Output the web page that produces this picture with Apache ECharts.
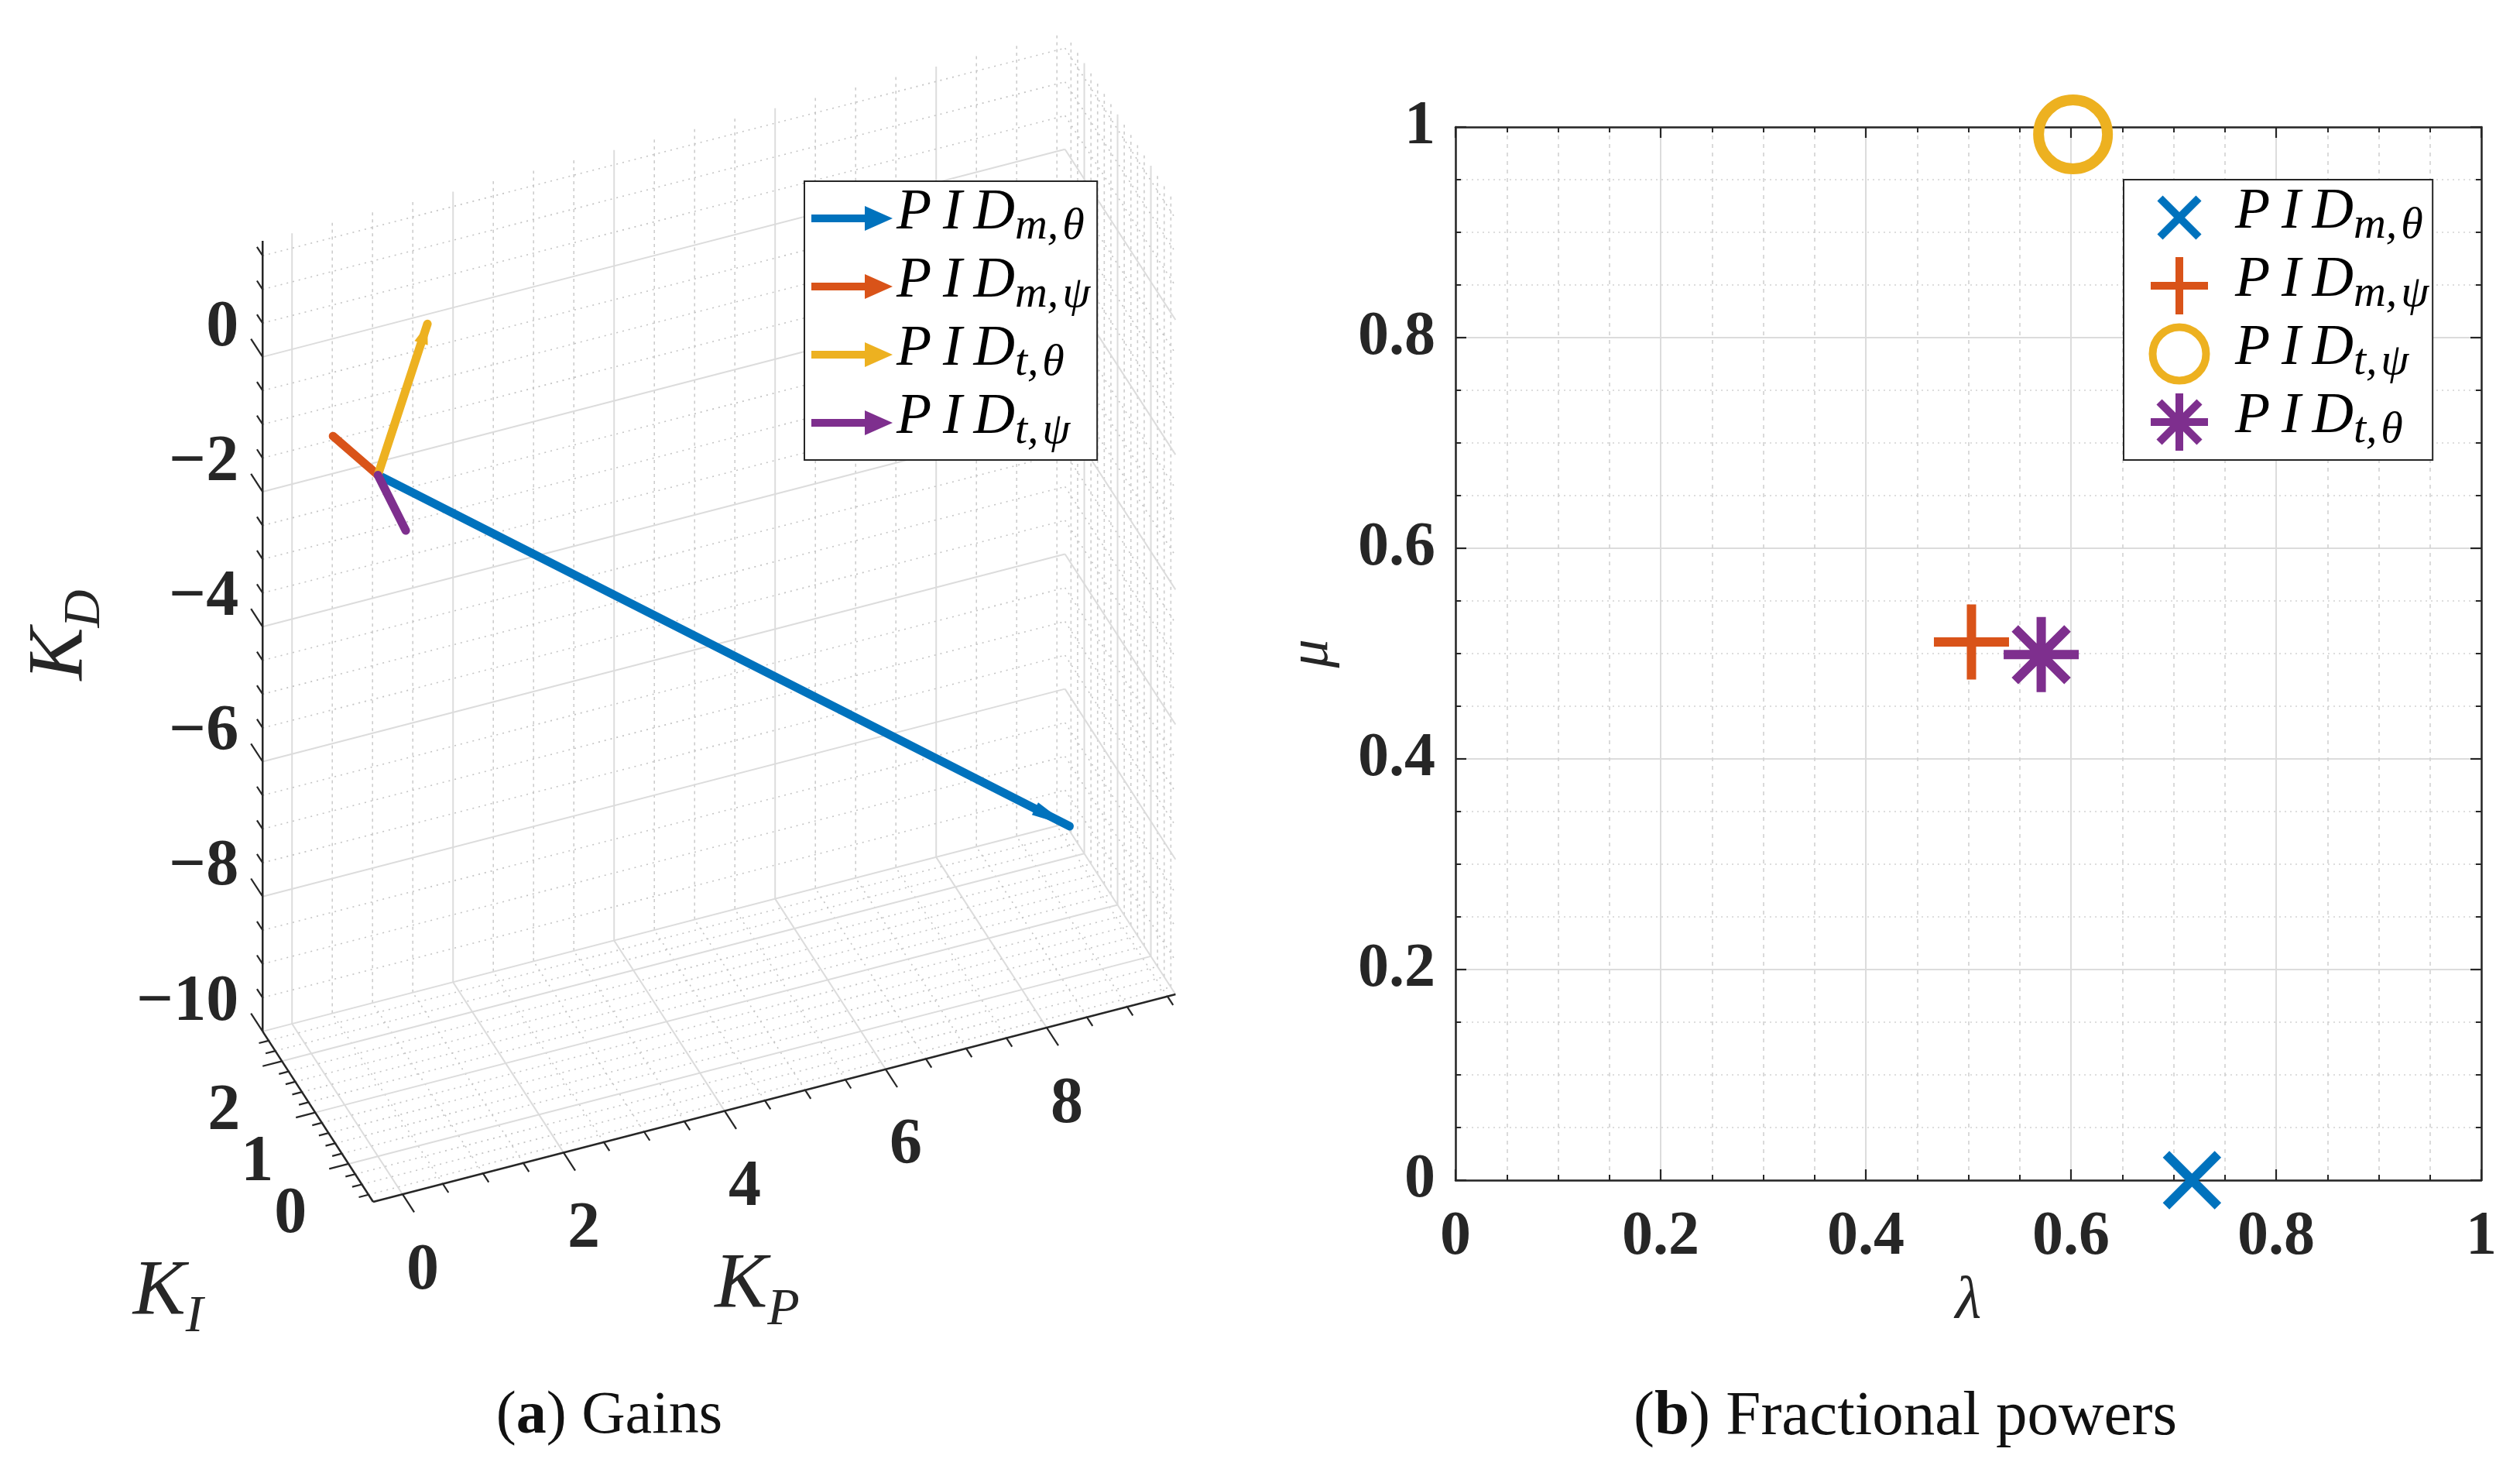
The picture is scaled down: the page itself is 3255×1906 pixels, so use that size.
<!DOCTYPE html>
<html><head><meta charset="utf-8">
<style>html,body{margin:0;padding:0;background:#fff}#c{width:3255px;height:1906px}</style>
<script src="https://cdn.jsdelivr.net/npm/echarts@6/dist/echarts.min.js"></script>
</head><body><div id="c"></div>
<script>
// ---------- data ----------
const gainSeriesNames = ['PID m,θ', 'PID m,ψ', 'PID t,θ', 'PID t,ψ'];
const arrowTail = [0, 0, 0.1];              // KP, KI, KD
const arrowTips = [
  [8.59, 0, -7.76],
  [-0.144, 1, -0.04],
  [0.615, 0, 2.15],
  [0.346, 0, -0.83]
];
const arrowHeadLengths = [50, 0, 26, 0];
const kpTicks = [0, 2, 4, 6, 8];
const kiTicks = [0, 1, 2];
const kdTicks = [-10, -8, -6, -4, -2, 0];
const kpRange = [-0.365, 9.6];
const kiRange = [-0.74, 2.58];
const kdRange = [-10, 1.72];

const powerSeriesNames = ['PID m,θ (powers)', 'PID m,ψ (powers)', 'PID t,ψ (powers)', 'PID t,θ (powers)'];
const lambdaValues = [0.718, 0.503, 0.602, 0.571];
const muValues = [0, 0.511, 0.993, 0.499];

// ---------- style ----------
const colors = ['#0072BD', '#D95319', '#EDB120', '#7E2F8E'];
const powerColors = ['#0072BD', '#D95319', '#EDB120', '#7E2F8E'];
const ink = '#262626';
const serif = '"Liberation Serif", serif';
const BOLD = { fontFamily: serif, fontWeight: 'bold', fontSize: 84, fill: ink };

// ---------- orthographic projection ----------
function project(kp, ki, kd) {
  return [
    482 + (kp - kpRange[0]) * 104 - (ki - kiRange[0]) * 43,
    1552 - (kp - kpRange[0]) * 26.9 - (ki - kiRange[0]) * 66.3 - (kd - kdRange[0]) * 87.1
  ];
}
function steps(a, b, s) {
  const out = [], n = Math.round((b - a) / s);
  for (let i = 0; i <= n; i++) out.push(+(a + i * s).toFixed(4));
  return out;
}
const isMajor = (v, list) => list.some(t => Math.abs(t - v) < 1e-6);

// kinds: 0 major grid, 1 minor dotted, 2 minor dashed, 3 axis, 4 major tick, 5 minor tick
const lines = [];
const seg = (a, b, k) => lines.push([a[0], a[1], a[2], b[0], b[1], b[2], k]);
const [pa, pb] = kpRange, [ia, ib] = kiRange, [da, db] = kdRange;
steps(0, 9.5, 0.5).forEach(p => {
  const maj = isMajor(p, kpTicks);
  seg([p, ia, da], [p, ib, da], maj ? 0 : 1);
  seg([p, ib, da], [p, ib, db], maj ? 0 : 2);
});
steps(-0.6, 2.4, 0.2).forEach(i => {
  const maj = isMajor(i, kiTicks);
  seg([pa, i, da], [pb, i, da], maj ? 0 : 1);
  seg([pb, i, da], [pb, i, db], maj ? 0 : 2);
});
steps(-10, 1.5, 0.5).forEach(d => {
  const maj = isMajor(d, kdTicks);
  seg([pa, ib, d], [pb, ib, d], maj ? 0 : 1);
  seg([pb, ib, d], [pb, ia, d], maj ? 0 : 1);
});
// axes
seg([pa, ia, da], [pb, ia, da], 3);
seg([pa, ia, da], [pa, ib, da], 3);
seg([pa, ib, da], [pa, ib, db], 3);
// ticks
steps(0, 9.5, 0.5).forEach(p => {
  const maj = isMajor(p, kpTicks);
  seg([p, ia, da], [p, ia - (maj ? 0.35 : 0.17), da], maj ? 4 : 5);
});
steps(-0.6, 2.4, 0.2).forEach(i => {
  const maj = isMajor(i, kiTicks);
  seg([pa, i, da], [pa - (maj ? 0.24 : 0.12), i, da], maj ? 4 : 5);
});
steps(-10, 1.5, 0.5).forEach(d => {
  const maj = isMajor(d, kdTicks);
  seg([pa, ib, d], [pa, ib + (maj ? 0.35 : 0.17), d], maj ? 4 : 5);
});
const lineStyles = [
  { stroke: '#dcdcdc', lineWidth: 2 },
  { stroke: '#c4c4c4', lineWidth: 1.6, lineDash: [2, 6] },
  { stroke: '#cdcdcd', lineWidth: 1.6, lineDash: [4, 5] },
  { stroke: ink, lineWidth: 2.5 },
  { stroke: ink, lineWidth: 2.2 },
  { stroke: ink, lineWidth: 2.2 }
];

// tick labels of the projected axes
const tickLabels = [];
kpTicks.forEach(v => tickLabels.push({ p: [v, ia, da], dx: 26, dy: 100, t: String(v), align: 'center' }));
kiTicks.forEach(v => tickLabels.push({ p: [pa, v, da], dx: -75, dy: 66, t: String(v), align: 'center' }));
kdTicks.forEach(v => tickLabels.push({ p: [pa, ib, v], dx: -31, dy: -37, t: String(v).replace('-', '\u2212'), align: 'right' }));

function hiddenCoord(api, p) { return api.coord(project(p[0], p[1], p[2])); }

const arrowSeries = gainSeriesNames.map((name, s) => ({
  name, type: 'custom', xAxisIndex: 0, yAxisIndex: 0, clip: false, z: 5, silent: true,
  itemStyle: { color: colors[s] },
  data: [[0]],
  renderItem(params, api) {
    const a = hiddenCoord(api, arrowTail), b = hiddenCoord(api, arrowTips[s]);
    const children = [{
      type: 'line', shape: { x1: a[0], y1: a[1], x2: b[0], y2: b[1] },
      style: { stroke: colors[s], lineWidth: 11, lineCap: 'round', fill: null }
    }];
    const L = arrowHeadLengths[s];
    if (L) {
      const dx = b[0] - a[0], dy = b[1] - a[1], n = Math.hypot(dx, dy), ux = dx / n, uy = dy / n;
      const bx = b[0] - ux * L, by = b[1] - uy * L, w = 9;
      children.push({
        type: 'polygon',
        shape: { points: [[b[0], b[1]], [bx - uy * w, by + ux * w], [bx + uy * w, by - ux * w]] },
        style: { fill: colors[s] }
      });
    }
    return { type: 'group', children };
  }
}));

const arrowIcon = 'path://M0 0M105 88M0 39H69V28L105 44L69 60V49H0Z';
const xIcon = 'path://M0 0M134 88M42 19L92 69M42 69L92 19';
const plusIcon = 'path://M0 0M134 88M30 44H104M67 7V81';
const circleIcon = 'path://M0 0M134 88M32.5 44A34.5 34.5 0 1 1 101.5 44A34.5 34.5 0 1 1 32.5 44Z';
const starIcon = 'path://M0 0M134 88M30 44H104M67 7V81M41 18L93 70M41 70L93 18';

const legendRich = {
  p: { fontFamily: serif, fontStyle: 'italic', fontSize: 74, height: 76, lineHeight: 88, verticalAlign: 'top', color: '#000' },
  s: { fontFamily: serif, fontStyle: 'italic', fontSize: 58, height: 66, lineHeight: 66, verticalAlign: 'bottom', color: '#000' }
};
const legendText = name => {
  const m = name.match(/PID (\S+)/);
  return '{p|P\u2009I\u2009D}{s|' + m[1].replace(',', ',\u200a') + '}';
};

const xMark = 'path://M0 0L100 100M0 100L100 0';
const plusMark = 'path://M0 50H100M50 0V100';
const starMark = 'path://M0 50H100M50 0V100M15 15L85 85M15 85L85 15';
const powerSymbols = [xMark, plusMark, 'circle', starMark];
const powerSizes = [67, 97, 89, 97];
const powerWidths = [12, 12, 14, 12];

const powerSeries = powerSeriesNames.map((name, s) => ({
  name, type: 'scatter', xAxisIndex: 1, yAxisIndex: 1, clip: false, z: 5, silent: true,
  symbol: powerSymbols[s], symbolSize: powerSizes[s],
  itemStyle: { color: 'rgba(0,0,0,0)', borderColor: powerColors[s], borderWidth: powerWidths[s], opacity: 1 },
  data: [[lambdaValues[s], muValues[s]]]
}));

function boxAxis(position, showLabel, isX) {
  return {
    type: 'value', gridIndex: 1, min: 0, max: 1, interval: 0.2, position,
    axisLine: { show: true, onZero: false, lineStyle: { color: ink, width: 2.5 } },
    axisTick: { show: true, inside: true, length: 14, lineStyle: { color: ink, width: 2.2 } },
    minorTick: { show: true, splitNumber: 4, length: 7, lineStyle: { color: ink, width: 2 } },
    splitLine: { show: showLabel, lineStyle: { color: '#dcdcdc', width: 2 } },
    minorSplitLine: { show: showLabel, lineStyle: { color: '#d2d2d2', width: 1.6, type: isX ? [5, 6] : [2, 5] } },
    axisLabel: { show: showLabel, fontFamily: serif, fontWeight: 'bold', fontSize: 80, color: ink, margin: isX ? 34 : 26,
      verticalAlign: isX ? 'top' : 'middle', padding: isX ? 0 : [14, 0, 0, 0],
      formatter: v => String(+v.toFixed(1)) }
  };
}

const xAxes = [
  { type: 'value', gridIndex: 0, min: 0, max: 3255, show: false },
  Object.assign(boxAxis('bottom', true, true), { name: 'λ', nameLocation: 'middle', nameGap: 118,
    nameTextStyle: { fontFamily: serif, fontStyle: 'italic', fontSize: 78, color: ink } }),
  boxAxis('top', false, true)
];
const yAxes = [
  { type: 'value', gridIndex: 0, min: 0, max: 1906, inverse: true, show: false },
  Object.assign(boxAxis('left', true, false), { name: 'μ', nameLocation: 'middle', nameGap: 148, nameRotate: 90,
    nameTextStyle: { fontFamily: serif, fontStyle: 'italic', fontSize: 74, color: ink } }),
  boxAxis('right', false, false)
];

const mathRich = {
  k: { fontFamily: serif, fontStyle: 'italic', fontSize: 102, fill: ink, lineHeight: 116, verticalAlign: 'top' },
  i: { fontFamily: serif, fontStyle: 'italic', fontSize: 68, fill: ink, lineHeight: 100, verticalAlign: 'bottom' }
};
const mathName = (x, y, sub, rotation) => ({
  type: 'text', x, y, rotation: rotation || 0, z: 6,
  style: { text: '{k|K}{i|' + sub + '}', rich: mathRich, align: 'center', verticalAlign: 'middle', fill: ink }
});

const chart = echarts.init(document.getElementById('c'), null, { width: 3255, height: 1906, renderer: 'canvas' });
chart.setOption({
  animation: false,
  backgroundColor: '#fff',
  title: [
    { text: '({b|a}) Gains', left: 782, top: 1786, textAlign: 'center',
      textStyle: { fontFamily: serif, fontSize: 78, fontWeight: 'normal', color: '#111',
        rich: { b: { fontFamily: serif, fontSize: 78, fontWeight: 'bold', color: '#111' } } } },
    { text: '({b|b}) Fractional powers', left: 2456, top: 1785, textAlign: 'center',
      textStyle: { fontFamily: serif, fontSize: 81, fontWeight: 'normal', color: '#111',
        rich: { b: { fontFamily: serif, fontSize: 81, fontWeight: 'bold', color: '#111' } } } }
  ],
  grid: [
    { left: 0, top: 0, width: 3255, height: 1906, show: false },
    { left: 1880, top: 164, width: 1325, height: 1360, show: false }
  ],
  xAxis: xAxes,
  yAxis: yAxes,
  legend: [
    { left: 1039, top: 234, orient: 'vertical', itemWidth: 105, itemHeight: 88, itemGap: 0,
      padding: [4, 9, 4, 9], borderWidth: 2, borderColor: ink, backgroundColor: '#fff', selectedMode: false, z: 20,
      textStyle: { width: 249, rich: legendRich, overflow: 'none' }, formatter: legendText,
      data: gainSeriesNames.map((name, s) => ({ name, icon: arrowIcon, itemStyle: { color: colors[s], borderWidth: 0 } })) },
    { left: 2743, top: 232, orient: 'vertical', itemWidth: 134, itemHeight: 88, itemGap: -10,
      padding: [0, 5, 0, 0], borderWidth: 2, borderColor: ink, backgroundColor: '#fff', selectedMode: false, z: 20,
      textStyle: { width: 253, rich: legendRich, overflow: 'none' }, formatter: legendText,
      data: powerSeriesNames.map((name, s) => ({ name,
        icon: [xIcon, plusIcon, circleIcon, starIcon][s],
        itemStyle: { color: 'rgba(0,0,0,0)', borderColor: powerColors[s], borderWidth: 10 } })) }
  ],
  graphic: [
    mathName(86, 820, 'D', Math.PI / 2),
    mathName(217, 1677, 'I'),
    mathName(978, 1668, 'P')
  ],
  series: [
    { name: 'grid3d', type: 'custom', xAxisIndex: 0, yAxisIndex: 0, clip: false, z: 1, silent: true,
      data: lines,
      renderItem(params, api) {
        const a = api.coord(project(api.value(0), api.value(1), api.value(2)));
        const b = api.coord(project(api.value(3), api.value(4), api.value(5)));
        return { type: 'line', shape: { x1: a[0], y1: a[1], x2: b[0], y2: b[1] },
          style: Object.assign({ fill: null }, lineStyles[api.value(6)]) };
      } },
    { name: 'ticklabels3d', type: 'custom', xAxisIndex: 0, yAxisIndex: 0, clip: false, z: 2, silent: true,
      data: tickLabels.map((t, i) => [i]),
      renderItem(params, api) {
        const t = tickLabels[params.dataIndex], c = hiddenCoord(api, t.p);
        return { type: 'text', x: c[0] + t.dx, y: c[1] + t.dy,
          style: Object.assign({}, BOLD, { text: t.t, align: t.align, verticalAlign: 'middle' }) };
      } }
  ].concat(arrowSeries, powerSeries)
});
</script></body></html>
